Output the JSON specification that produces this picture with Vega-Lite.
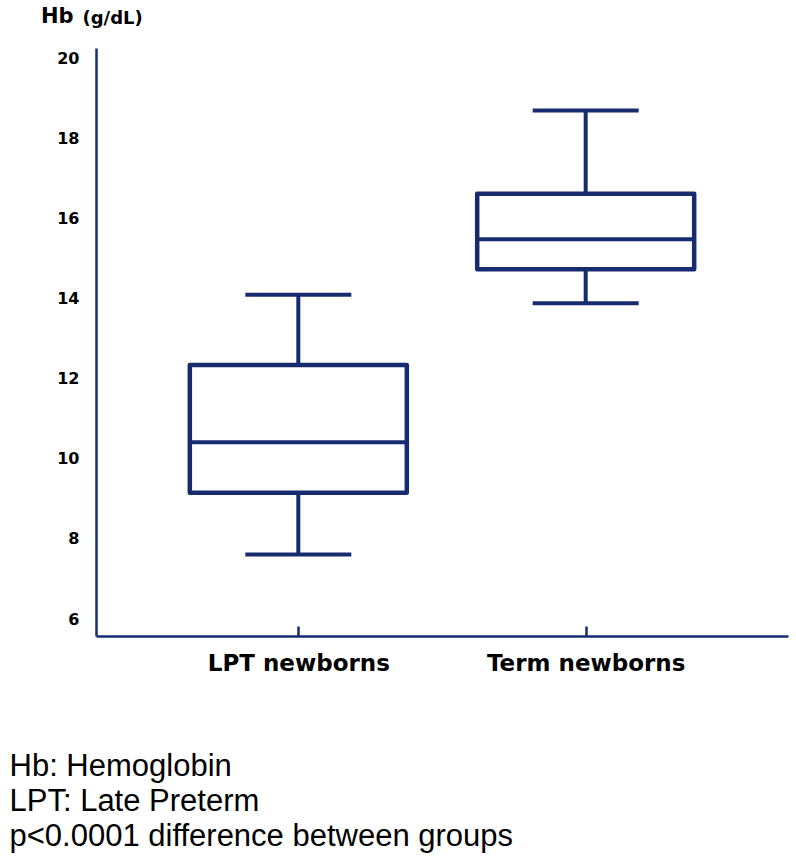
{
  "$schema": "https://vega.github.io/schema/vega-lite/v6.json",
  "autosize": "none",
  "width": 692,
  "height": 588,
  "padding": {"left": 96, "top": 48, "right": 8, "bottom": 226},
  "background": "white",
  "title": {
    "text": "Hb",
    "anchor": "start",
    "frame": "group",
    "orient": "top",
    "font": "DejaVu Sans",
    "fontSize": 21,
    "fontWeight": "bold",
    "color": "black",
    "baseline": "alphabetic",
    "offset": 0,
    "dx": -55,
    "dy": 35
  },
  "data": {
    "values": [
      {"group": "LPT newborns", "min": 7.61, "q1": 9.15, "median": 10.41, "q3": 12.34, "max": 14.09},
      {"group": "Term newborns", "min": 13.88, "q1": 14.73, "median": 15.48, "q3": 16.61, "max": 18.69}
    ]
  },
  "encoding": {
    "x": {
      "field": "group",
      "type": "nominal",
      "sort": null,
      "scale": {"type": "point", "padding": 0.704},
      "axis": {
        "title": ["Hb: Hemoglobin", "LPT: Late Preterm", "p<0.0001 difference between groups"],
        "titleFont": "Liberation Sans",
        "titleFontWeight": "normal",
        "titleFontSize": 31,
        "titleColor": "black",
        "titleLineHeight": 35,
        "titleAlign": "left",
        "titleAnchor": "start",
        "titleBaseline": "alphabetic",
        "titleX": -87,
        "titleY": 139,
        "labelFont": "DejaVu Sans",
        "labelFontWeight": "bold",
        "labelFontSize": 23,
        "labelColor": "black",
        "labelAngle": 0,
        "labelPadding": 37,
        "labelBaseline": "middle",
        "labelLimit": 0,
        "tickSize": -10,
        "tickWidth": 2.5,
        "tickColor": "#172b6f",
        "domainColor": "#172b6f",
        "domainWidth": 2.5,
        "grid": false
      }
    }
  },
  "layer": [
    {
      "mark": {"type": "rule", "color": "#172b6f", "strokeWidth": 4},
      "encoding": {
        "y": {"field": "min", "type": "quantitative"},
        "y2": {"field": "q1"}
      }
    },
    {
      "mark": {"type": "rule", "color": "#172b6f", "strokeWidth": 4},
      "encoding": {
        "y": {"field": "q3", "type": "quantitative"},
        "y2": {"field": "max"}
      }
    },
    {
      "mark": {"type": "bar", "fill": "white", "stroke": "#172b6f", "strokeWidth": 4.5, "size": 217, "strokeJoin": "round"},
      "encoding": {
        "y": {
          "field": "q1",
          "type": "quantitative",
          "scale": {"domain": [5.576, 20.25], "nice": false, "zero": false},
          "axis": {
            "values": [6, 8, 10, 12, 14, 16, 18, 20],
            "title": "(g/dL)",
            "titleAngle": 0,
            "titleAlign": "left",
            "titleBaseline": "alphabetic",
            "titleX": -14,
            "titleY": -25,
            "titleFont": "DejaVu Sans",
            "titleFontWeight": "bold",
            "titleFontSize": 18,
            "titleColor": "black",
            "labelFont": "DejaVu Sans",
            "labelFontWeight": "bold",
            "labelFontSize": 16,
            "labelColor": "black",
            "labelPadding": 17,
            "ticks": false,
            "tickSize": 0,
            "domainColor": "#172b6f",
            "domainWidth": 2.5,
            "grid": false
          }
        },
        "y2": {"field": "q3"}
      }
    },
    {
      "mark": {"type": "tick", "color": "#172b6f", "opacity": 1, "thickness": 4, "size": 217},
      "encoding": {"y": {"field": "median", "type": "quantitative"}}
    },
    {
      "mark": {"type": "tick", "color": "#172b6f", "opacity": 1, "thickness": 4, "size": 106},
      "encoding": {"y": {"field": "min", "type": "quantitative"}}
    },
    {
      "mark": {"type": "tick", "color": "#172b6f", "opacity": 1, "thickness": 4, "size": 106},
      "encoding": {"y": {"field": "max", "type": "quantitative"}}
    }
  ],
  "config": {
    "view": {"stroke": null}
  }
}
